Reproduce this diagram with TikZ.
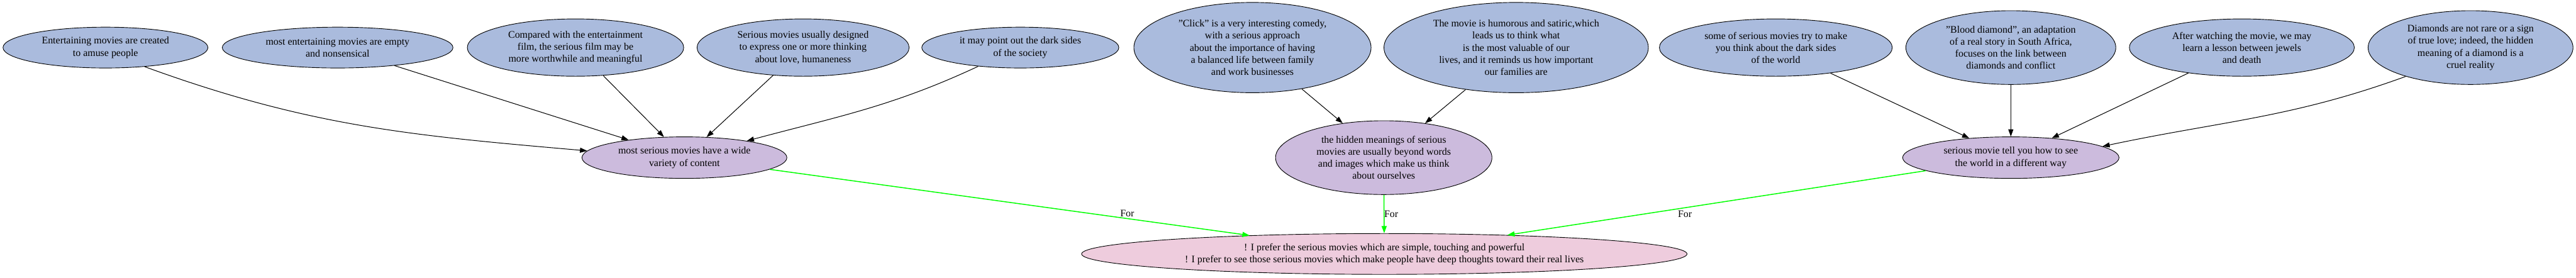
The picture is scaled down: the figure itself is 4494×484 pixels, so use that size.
\documentclass[tikz,border=0pt]{standalone}
\usepackage{fontspec}
\setmainfont{Liberation Serif}
\usetikzlibrary{shapes.geometric, arrows.meta}

\definecolor{premise}{HTML}{AABBDD}
\definecolor{reason}{HTML}{CCBBDD}
\definecolor{thesis}{HTML}{EECCDD}

\begin{document}
\begin{tikzpicture}[x=0.8pt, y=0.8pt, >={Triangle[length=10pt, width=7pt]}, line width=0.9pt,
  font=\fontsize{14}{16.8}\selectfont,
  bubble/.style={ellipse, draw, align=center, inner sep=0pt, line width=0.8pt},
  leaf/.style={bubble, fill=premise},
  mid/.style={bubble, fill=reason},
  root/.style={bubble, fill=thesis},
  pro/.style={->, draw=green, fill=green, line width=1.3pt},
  fortag/.style={text=black, fill=none, inner sep=1pt}]
\useasboundingbox (0,0) rectangle (4494,484);
% top row
\node[leaf, minimum width=286pt, minimum height=57pt] (amuse) at (184,401) {Entertaining movies are created\\to amuse people};
\node[leaf, minimum width=322pt, minimum height=57pt] (empty) at (589,401) {most entertaining movies are empty\\and nonsensical};
\node[leaf, minimum width=302pt, minimum height=80pt] (worth) at (1004,401) {Compared with the entertainment\\film, the serious film may be\\more worthwhile and meaningful};
\node[leaf, minimum width=296pt, minimum height=80pt] (love) at (1401,401) {Serious movies usually designed\\to express one or more thinking\\about love, humaneness};
\node[leaf, minimum width=275pt, minimum height=57pt] (dark) at (1780,401) {it may point out the dark sides\\of the society};
\node[leaf, minimum width=331pt, minimum height=126pt] (click) at (2185,401) {"Click" is a very interesting comedy,\\with a serious approach\\about the importance of having\\a balanced life between family\\and work businesses};
\node[leaf, minimum width=369pt, minimum height=126pt] (humor) at (2645,401) {The movie is humorous and satiric,which\\leads us to think what\\is the most valuable of our\\lives, and it reminds us how important\\our families are};
\node[leaf, minimum width=325pt, minimum height=80pt] (world) at (3098,401) {some of serious movies try to make\\you think about the dark sides\\of the world};
\node[leaf, minimum width=293pt, minimum height=103pt] (blood) at (3508,401) {"Blood diamond", an adaptation\\of a real story in South Africa,\\focuses on the link between\\diamonds and conflict};
\node[leaf, minimum width=314pt, minimum height=80pt] (jewel) at (3911,401) {After watching the movie, we may\\learn a lesson between jewels\\and death};
\node[leaf, minimum width=286pt, minimum height=103pt] (cruel) at (4310,401) {Diamonds are not rare or a sign\\of true love; indeed, the hidden\\meaning of a diamond is a\\cruel reality};
% middle row
\node[mid, minimum width=286pt, minimum height=58pt] (variety) at (1194,209) {most serious movies have a wide\\variety of content};
\node[mid, minimum width=302pt, minimum height=103pt] (hidden) at (2414,209) {the hidden meanings of serious\\movies are usually beyond words\\and images which make us think\\about ourselves};
\node[mid, minimum width=302pt, minimum height=58pt] (see) at (3508,209) {serious movie tell you how to see\\the world in a different way};
% bottom
\node[root, minimum width=845pt, minimum height=57pt] (prefer) at (2415,41) {! I prefer the serious movies which are simple, touching and powerful\\! I prefer to see those serious movies which make people have deep thoughts toward their real lives};

\draw[->] (amuse.-26) to[out=-20, in=175] (variety.176);
\draw[->] (empty) -- (variety);
\draw[->] (worth) -- (variety);
\draw[->] (love) -- (variety);
\draw[->] (dark.204) to[out=205, in=15] (variety.15);
\draw[->] (click) -- (hidden);
\draw[->] (humor) -- (hidden);
\draw[->] (world) -- (see);
\draw[->] (blood) -- (see);
\draw[->] (jewel) -- (see);
\draw[->] (cruel.204) to[out=200, in=12] (see.7);

\draw[pro] (variety) -- node[fortag, pos=.672, xshift=49pt] {For} (prefer);
\draw[pro] (hidden) -- node[fortag, pos=.5, xshift=10pt] {For} (prefer);
\draw[pro] (see) -- node[fortag, pos=.67, xshift=55pt] {For} (prefer);
\end{tikzpicture}
\end{document}
